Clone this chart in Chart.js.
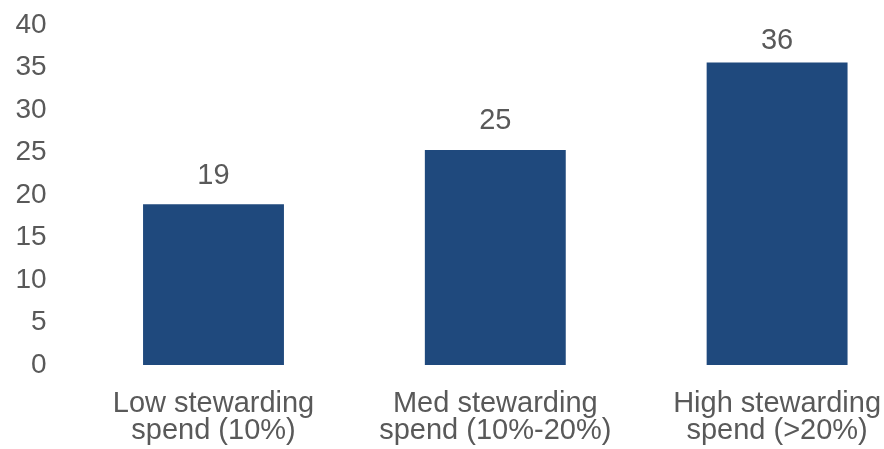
<!DOCTYPE html>
<html>
<head>
<meta charset="utf-8">
<script src="https://cdn.jsdelivr.net/npm/chart.js@4.4.0/dist/chart.umd.min.js"></script>
<style>
  html, body { margin: 0; padding: 0; background: #ffffff; overflow: hidden; width: 884px; height: 449px; }
  #wrap { position: absolute; left: 0; top: 0; width: 918px; height: 449px; }
</style>
</head>
<body>
<div id="wrap"><canvas id="c" width="918" height="449"></canvas></div>
<script>
const categories = [
  ["Low stewarding", "spend (10%)"],
  ["Med stewarding", "spend (10%-20%)"],
  ["High stewarding", "spend (>20%)"]
];
const values = [18.9, 25.3, 35.6];
const valueLabels = ["19", "25", "36"];
const yTicks = [0, 5, 10, 15, 20, 25, 30, 35, 40];

const textColor = "#595959";
const fontFamily = "'Liberation Sans', Arial, sans-serif";

const dataLabelPlugin = {
  id: "dataLabels",
  afterDatasetsDraw(chart) {
    const ctx = chart.ctx;
    const meta = chart.getDatasetMeta(0);
    const gaps = [20, 21, 13];
    ctx.save();
    ctx.font = "29px " + fontFamily;
    ctx.fillStyle = textColor;
    ctx.textAlign = "center";
    ctx.textBaseline = "alphabetic";
    meta.data.forEach((bar, i) => {
      ctx.fillText(valueLabels[i], bar.x, bar.y - gaps[i]);
    });
    ctx.restore();
  }
};

new Chart(document.getElementById("c"), {
  type: "bar",
  data: {
    labels: categories,
    datasets: [{
      data: values,
      backgroundColor: "#1F497D",
      borderWidth: 0,
      categoryPercentage: 1.0,
      barPercentage: 0.5
    }]
  },
  options: {
    responsive: false,
    maintainAspectRatio: false,
    animation: false,
    layout: { padding: { top: 25, left: 0, right: 0, bottom: 0 } },
    plugins: { legend: { display: false }, tooltip: { enabled: false }, title: { display: false } },
    scales: {
      x: {
        grid: { display: false, drawTicks: false },
        border: { display: false },
        ticks: {
          color: textColor,
          font: { family: fontFamily, size: 29, lineHeight: 0.92 },
          padding: 26,
          maxRotation: 0,
          minRotation: 0,
          autoSkip: false
        },
        afterFit(scale) {
          scale.height = 84;
          scale.paddingLeft = 0; scale.paddingRight = 0;
          scale.paddingTop = 0; scale.paddingBottom = 0;
        }
      },
      y: {
        min: 0,
        max: 40,
        grid: { display: false, drawTicks: false },
        border: { display: false },
        afterBuildTicks(scale) { scale.ticks = yTicks.map(v => ({ value: v })); },
        ticks: {
          color: textColor,
          font: { family: fontFamily, size: 28 },
          padding: 26,
          stepSize: 5
        },
        afterFit(scale) {
          scale.width = 72.6;
          scale.paddingTop = 0; scale.paddingBottom = 0;
          scale.paddingLeft = 0; scale.paddingRight = 0;
        }
      }
    }
  },
  plugins: [dataLabelPlugin]
});
</script>
</body>
</html>
